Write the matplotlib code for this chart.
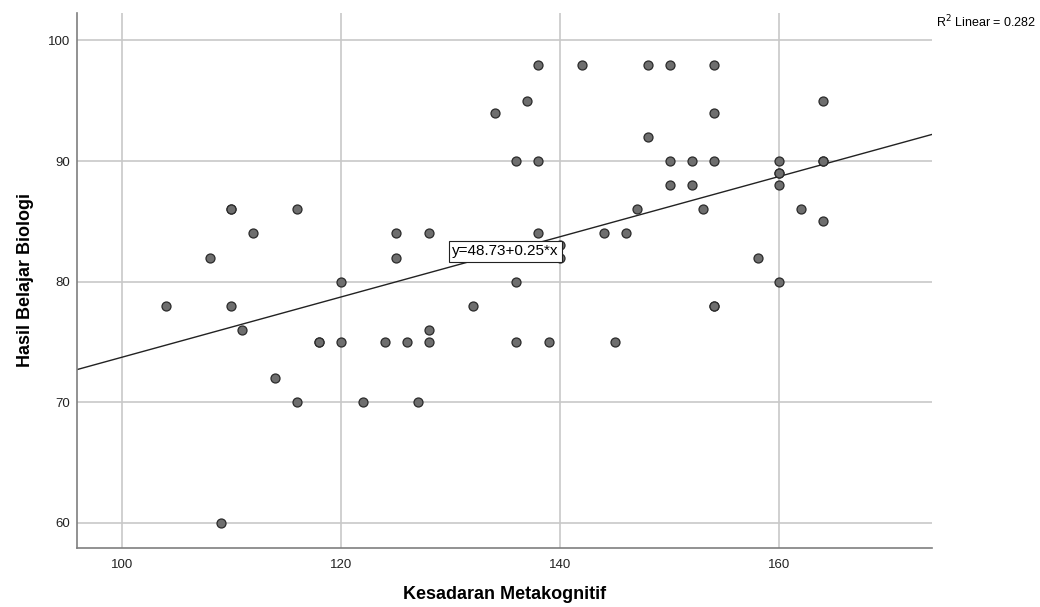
import numpy as np
import matplotlib
matplotlib.use("Agg")
import matplotlib.pyplot as plt

plt.rcParams['font.family'] = ['Liberation Sans', 'DejaVu Sans']

# data (Kesadaran Metakognitif vs Hasil Belajar Biologi)
x_meta = [104, 108, 109, 110, 110, 110, 111, 112, 114, 116, 116, 118, 118,
          120, 120, 122, 124, 125, 125, 126, 127, 128, 128, 128, 132, 134,
          136, 136, 136, 137, 138, 138, 138, 139, 140, 140, 142, 144, 145,
          146, 147, 148, 148, 150, 150, 150, 152, 152, 153, 154, 154, 154,
          154, 154, 158, 160, 160, 160, 160, 160, 162, 164, 164, 164, 164]
y_bio = [78, 82, 60, 86, 86, 78, 76, 84, 72, 86, 70, 75, 75,
         80, 75, 70, 75, 84, 82, 75, 70, 84, 76, 75, 78, 94,
         90, 80, 75, 95, 98, 90, 84, 75, 83, 82, 98, 84, 75,
         84, 86, 98, 92, 98, 90, 88, 90, 88, 86, 98, 94, 90,
         78, 78, 82, 90, 89, 89, 88, 80, 86, 95, 90, 90, 85]

intercept = 48.73
slope = 0.25
r2_text = "R$^2$ Linear = 0.282"
fit_label = "y=48.73+0.25*x"

xlim = (95.9, 173.9)
ylim = (57.9, 102.3)

fig = plt.figure(figsize=(10.4, 6.07), dpi=100)
ax = fig.add_axes([0.074, 0.097, 0.822, 0.882])

ax.set_xlim(xlim)
ax.set_ylim(ylim)
ax.set_xticks([100, 120, 140, 160])
ax.set_yticks([60, 70, 80, 90, 100])
ax.grid(True, color='#c8c8c8', linewidth=1.2)
ax.set_axisbelow(True)

for s in ['top', 'right']:
    ax.spines[s].set_visible(False)
for s in ['left', 'bottom']:
    ax.spines[s].set_color('#7f7f7f')
    ax.spines[s].set_linewidth(1.2)
ax.tick_params(length=0, labelsize=9.5, colors='#222222')
ax.tick_params(axis='x', pad=8)
ax.tick_params(axis='y', pad=5)

# fit line across the whole plot
xx = np.array(xlim)
ax.plot(xx, intercept + slope * xx, color='#222222', linewidth=1, zorder=2)

ax.scatter(x_meta, y_bio, s=42, color='#6e6e6e', edgecolor='#2a2a2a',
           linewidth=0.9, zorder=3)

ax.text(135.0, 82.5, fit_label, fontsize=11, ha='center', va='center', zorder=4,
        bbox=dict(boxstyle='square,pad=0.2', facecolor='white', edgecolor='#222222', linewidth=0.8))

fig.text(0.996, 0.963, r2_text, fontsize=9, ha='right', va='center')

ax.set_xlabel("Kesadaran Metakognitif", fontsize=13, fontweight='bold')
ax.set_ylabel("Hasil Belajar Biologi", fontsize=13, fontweight='bold')
ax.xaxis.set_label_coords(0.5, -0.071)
ax.yaxis.set_label_coords(-0.050, 0.5)

fig.savefig("out.png", dpi=100)
